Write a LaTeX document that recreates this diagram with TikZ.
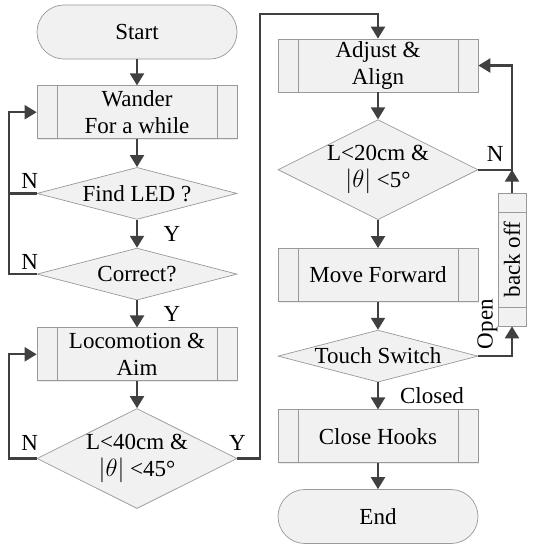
\documentclass[tikz,border=0pt]{standalone}
\usepackage{fontspec}
\setmainfont{Liberation Serif}
\usepackage{graphicx}
\usepackage{tikz}
\usetikzlibrary{arrows.meta,positioning,calc}
\usetikzlibrary{shapes.geometric,shadows}
\definecolor{linegray}{HTML}{404040}
\definecolor{edgegray}{HTML}{999999}
\definecolor{boxfill}{HTML}{F1F1F1}
\newcommand\flowfont{\fontsize{23}{27}\selectfont}
\tikzset{
  flowbox/.style={draw=edgegray,fill=boxfill,line width=.7pt,font=\flowfont,align=center},
  subbox/.style={flowbox,rectangle,minimum width=200pt,minimum height=53pt,inner sep=0pt,
    drop shadow={shadow xshift=1.2pt,shadow yshift=-1.2pt,fill=gray!30},
    path picture={\draw[edgegray,line width=.7pt]
      ([xshift=20pt]path picture bounding box.north west)--([xshift=20pt]path picture bounding box.south west)
      ([xshift=-20pt]path picture bounding box.north east)--([xshift=-20pt]path picture bounding box.south east);}},
  sidebox/.style={flowbox,rectangle,minimum width=28pt,minimum height=133pt,inner sep=0pt,
    drop shadow={shadow xshift=1.2pt,shadow yshift=-1.2pt,fill=gray!30},
    path picture={\draw[edgegray,line width=.7pt]
      ([yshift=-19pt]path picture bounding box.north west)--([yshift=-19pt]path picture bounding box.north east)
      ([yshift=19pt]path picture bounding box.south west)--([yshift=19pt]path picture bounding box.south east);}},
  termbox/.style={flowbox,rectangle,rounded corners=27pt,minimum width=200pt,minimum height=54pt,inner sep=0pt},
  decision/.style={flowbox,diamond,minimum width=200pt,inner sep=-6pt},
  flatdecision/.style={decision,minimum height=52pt,shape aspect=3.85},
  talldecision/.style={decision,minimum height=100pt,shape aspect=2},
  flowarrow/.style={-{Triangle[length=12pt,width=14pt]},draw=linegray,line width=2.2pt},
  flowline/.style={draw=linegray,line width=2.2pt},
  flowlabel/.style={font=\flowfont,inner sep=1pt}
}
\begin{document}
\begin{tikzpicture}
  \useasboundingbox (0,0) rectangle (535pt,-550pt);
  % left column
  \node[termbox] (start) at (137pt,-32pt) {Start};
  \node[subbox,below=26pt of start] (wander) {Wander\\For a while};
  \node[flatdecision,below=28pt of wander] (findled) {Find LED ?};
  \node[flatdecision,below=28pt of findled] (correct) {Correct?};
  \node[subbox,below=27pt of correct] (loco) {Locomotion \&\\Aim};
  \node[talldecision,below=27pt of loco] (near40) {L<40cm \&\\$|\theta|$ <45°};
  % right column
  \node[subbox] (adjust) at (378pt,-65.5pt) {Adjust \&\\Align};
  \node[talldecision,below=27pt of adjust] (near20) {L<20cm \&\\$|\theta|$ <5°};
  \node[subbox,below=28pt of near20] (forward) {Move Forward};
  \node[flatdecision,below=28pt of forward] (touch) {Touch Switch};
  \node[subbox,below=27pt of touch] (hooks) {Close Hooks};
  \node[termbox,below=26pt of hooks] (finish) {End};
  \node[sidebox] (backoff) at (512pt,-259.5pt) {\rotatebox{90}{back off}};
  \coordinate (leftrail) at (9pt,0);
  \coordinate (toprail) at (260pt,-14pt);
  \coordinate (rightrail) at (512pt,0);
  % main flow
  \draw[flowarrow] (start)--(wander);
  \draw[flowarrow] (wander)--(findled);
  \draw[flowarrow] (findled)--(correct) node[flowlabel,midway,xshift=35pt] {Y};
  \draw[flowarrow] (correct)--(loco) node[flowlabel,midway,xshift=35pt] {Y};
  \draw[flowarrow] (loco)--(near40);
  \draw[flowarrow] (adjust)--(near20);
  \draw[flowarrow] (near20)--(forward);
  \draw[flowarrow] (forward)--(touch);
  \draw[flowarrow] (touch)--(hooks) node[flowlabel,midway,right=20pt] {Closed};
  \draw[flowarrow] (hooks)--(finish);
  % loops
  \draw[flowarrow] (findled.west) -- node[flowlabel,pos=.25,above=3pt] {N} (findled.west -| leftrail) |- (wander.west);
  \draw[flowline] (correct.west) -- node[flowlabel,pos=.25,above=3pt] {N} (correct.west -| leftrail) -- (findled.west -| leftrail);
  \draw[flowarrow] (near40.west) -- node[flowlabel,pos=.25,above=6pt] {N} (near40.west -| leftrail) |- (loco.west);
  \draw[flowarrow] (near40.east) -| (toprail) -| (adjust.north);
  \node[flowlabel,above=7pt of near40.east] (yes40) {Y};
  \draw[flowarrow] (near20.east) -- node[flowlabel,pos=.5,above=6pt] {N} (near20.east -| rightrail) |- (adjust.east);
  \draw[flowarrow] (backoff.north) -- (backoff.north |- near20.east);
  \draw[flowarrow] (touch.east) -| (backoff.south);
  \node[flowlabel,rotate=90] (open) at ($(touch.east)+(9pt,32pt)$) {Open};
\end{tikzpicture}
\end{document}
